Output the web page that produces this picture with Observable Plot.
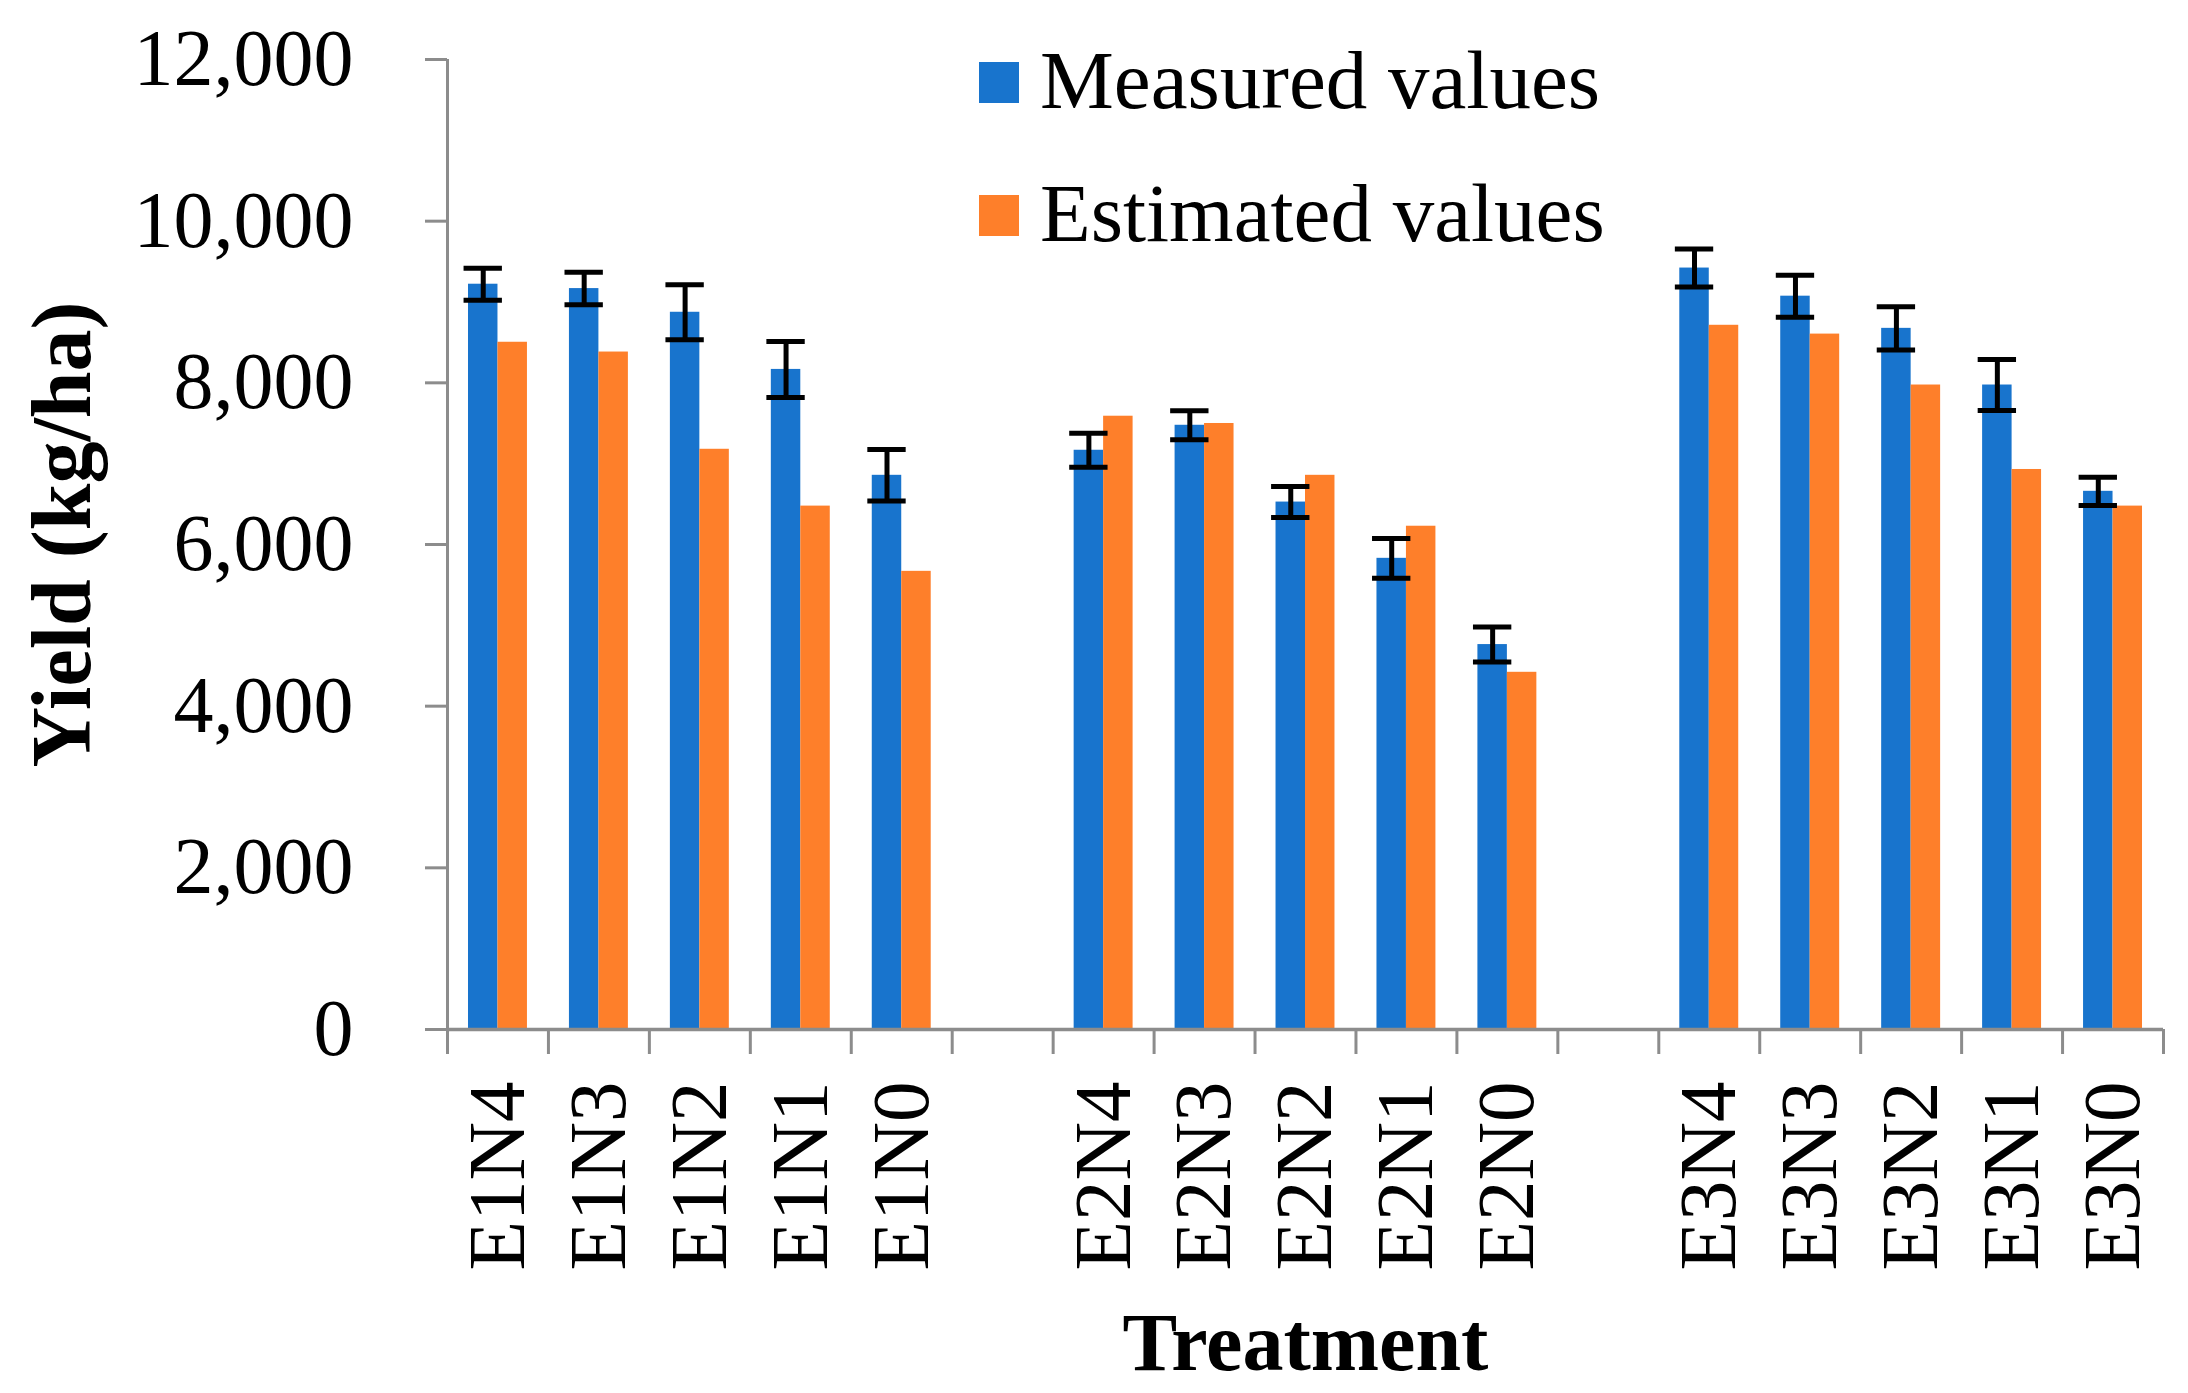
<!DOCTYPE html>
<html>
<head>
<meta charset="utf-8">
<script src="https://cdn.jsdelivr.net/npm/d3@7"></script>
<script src="https://cdn.jsdelivr.net/npm/@observablehq/plot@0.6"></script>
<style>
  html, body { margin: 0; padding: 0; background: #ffffff; }
  #wrap { position: relative; width: 2188px; height: 1393px; }
  #legend { position: absolute; left: 0; top: 0; pointer-events: none; }
</style>
</head>
<body>
<div id="wrap"></div>
<script>
// ---- data ----
const treatments = ["E1N4","E1N3","E1N2","E1N1","E1N0","E2N4","E2N3","E2N2","E2N1","E2N0","E3N4","E3N3","E3N2","E3N1","E3N0"];
// slot index along the axis (blank slots 5 and 11 separate the E groups)
const slots = [0,1,2,3,4,6,7,8,9,10,12,13,14,15,16];
const measured = [9220,9166,8873,8166,6856,7166,7475,6525,5829,4762,9420,9072,8674,7973,6658];
const estimated = [8502,8381,7178,6475,5668,7587,7497,6856,6226,4419,8712,8603,7973,6928,6475];
const errors = [199,201,340,346,318,210,180,192,246,216,235,260,268,315,175];
const seriesNames = ["Measured values","Estimated values"];
const yTicks = [0,2000,4000,6000,8000,10000,12000];
const slotCount = 17;

const blue = "#1874cd";
const orange = "#fe7f2a";
const gray = "#8c8c8c";
const font = "'Liberation Serif', 'Times New Roman', serif";

const rows = treatments.map((t, i) => ({
  name: t, slot: slots[i], measured: measured[i], estimated: estimated[i], err: errors[i]
}));

const bw = 0.292;  // bar width in slot units
const cap = 0.19;  // half-cap width

const chart = Plot.plot({
  width: 2188,
  height: 1393,
  marginLeft: 447,
  marginRight: 25,
  marginTop: 59,
  marginBottom: 364,
  style: { fontFamily: font, background: "white", color: "black", overflow: "visible" },
  x: { domain: [0, slotCount], axis: null },
  y: { domain: [0, 12000], axis: null },
  marks: [
    Plot.rectY(rows, { x1: d => d.slot + 0.5 - bw, x2: d => d.slot + 0.5, y1: 0, y2: "measured", fill: blue }),
    Plot.rectY(rows, { x1: d => d.slot + 0.5, x2: d => d.slot + 0.5 + bw, y1: 0, y2: "estimated", fill: orange }),
    // error bars
    Plot.ruleX(rows, { x: d => d.slot + 0.5 - bw / 2, y1: d => d.measured - d.err, y2: d => d.measured + d.err, stroke: "black", strokeWidth: 5 }),
    Plot.ruleY(rows, { y: d => d.measured + d.err, x1: d => d.slot + 0.5 - bw / 2 - cap, x2: d => d.slot + 0.5 - bw / 2 + cap, stroke: "black", strokeWidth: 5 }),
    Plot.ruleY(rows, { y: d => d.measured - d.err, x1: d => d.slot + 0.5 - bw / 2 - cap, x2: d => d.slot + 0.5 - bw / 2 + cap, stroke: "black", strokeWidth: 5 }),
    // y axis
    Plot.axisY({ ticks: yTicks, tickFormat: d3.format(","), tickSize: 22, tickPadding: 72, stroke: gray, strokeWidth: 3, fill: "black", fontSize: 80, label: null }),
    Plot.ruleX([0], { stroke: gray, strokeWidth: 3 }),
    // x axis
    Plot.axisX({ ticks: d3.range(0, slotCount + 1), tickFormat: () => "", tickSize: 25, stroke: gray, strokeWidth: 3, label: null }),
    Plot.ruleY([0], { stroke: gray, strokeWidth: 3.5 }),
    Plot.text(rows, { x: d => d.slot + 0.5, text: "name", frameAnchor: "bottom", dy: 52, rotate: -90, textAnchor: "end", lineAnchor: "middle", fontSize: 81, fill: "black" }),
    // axis titles
    Plot.text(["Treatment"], { frameAnchor: "bottom", dy: 314, textAnchor: "middle", lineAnchor: "middle", fontSize: 82, fontWeight: "bold", fill: "black" }),
    Plot.text(["Yield (kg/ha)"], { frameAnchor: "left", dx: -384, dy: -10, rotate: -90, textAnchor: "middle", lineAnchor: "middle", fontSize: 84, fontWeight: "bold", fill: "black" })
  ]
});

const wrap = document.getElementById("wrap");
wrap.appendChild(chart);

// legend overlay
const ns = "http://www.w3.org/2000/svg";
const lg = document.createElementNS(ns, "svg");
lg.setAttribute("id", "legend");
lg.setAttribute("width", 2188);
lg.setAttribute("height", 300);
const legendColors = [blue, orange];
const rowTops = [62, 195];
const baselines = [108, 241];
seriesNames.forEach((name, i) => {
  const r = document.createElementNS(ns, "rect");
  r.setAttribute("x", 979); r.setAttribute("y", rowTops[i]);
  r.setAttribute("width", 40); r.setAttribute("height", 41);
  r.setAttribute("fill", legendColors[i]);
  lg.appendChild(r);
  const t = document.createElementNS(ns, "text");
  t.setAttribute("x", 1040); t.setAttribute("y", baselines[i]);
  t.setAttribute("font-family", font);
  t.setAttribute("font-size", 83);
  t.setAttribute("fill", "black");
  t.textContent = name;
  lg.appendChild(t);
});
wrap.appendChild(lg);
</script>
</body>
</html>
